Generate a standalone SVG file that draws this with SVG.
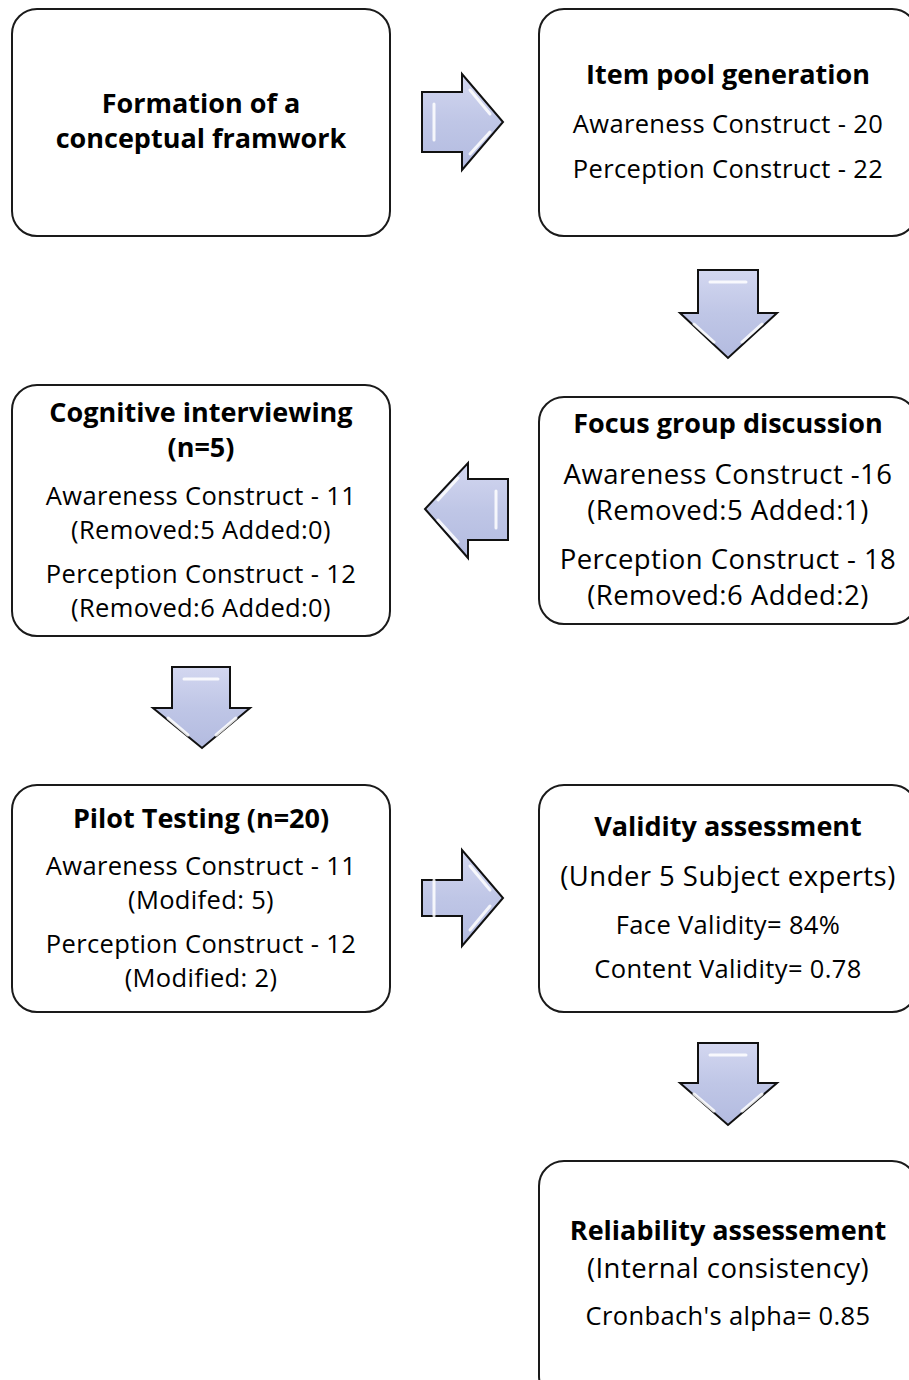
<svg xmlns="http://www.w3.org/2000/svg" width="909" height="1380" viewBox="0 0 909 1380">
<defs>
<linearGradient id="ag" x1="0" y1="0" x2="0" y2="1">
<stop offset="0" stop-color="#d3d7f0"/>
<stop offset="0.5" stop-color="#bfc6e6"/>
<stop offset="1" stop-color="#b3bbe0"/>
</linearGradient>
<style>
.box{fill:#fff;stroke:#1a1a1a;stroke-width:2}
.arr{fill:url(#ag);stroke:#111;stroke-width:2;stroke-linejoin:miter}
.hl{fill:none;stroke:#fff;stroke-width:3;stroke-linecap:round;opacity:0.85}
text{font-family:"Open Sans","Liberation Sans",sans-serif;text-anchor:middle;fill:#000}
.t{font-weight:bold;font-size:27px}
.n{font-size:25.5px;letter-spacing:0.35px}
.m{font-size:27.5px;letter-spacing:0.45px}
</style>
</defs>
<rect width="909" height="1380" fill="#fff"/>

<g id="connectors">
<g id="arrow1">
<path class="arr" d="M422,92 H462 V74 L503,122 L462,170 V152 H422 Z"/>
<path class="hl" d="M434,104 V140 M470,90 L490,114 M470,154 L490,132"/>
</g>
<g id="arrow2">
<path class="arr" d="M698,270 H758 V313 H777 L728,358 L680,313 H698 Z"/>
<path class="hl" d="M710,282 H746 M694,324 L714,342 M762,324 L742,342"/>
</g>
<g id="arrow3">
<path class="arr" d="M508,479 H468 V463 L425,509 L468,558 V540 H508 Z"/>
<path class="hl" d="M496,491 V528 M458,478 L438,500 M458,542 L438,520"/>
</g>
<g id="arrow4">
<path class="arr" d="M172,667 H230 V708 H250 L202,748 L153,708 H172 Z"/>
<path class="hl" d="M184,679 H218 M168,718 L188,735 M236,718 L216,735"/>
</g>
<g id="arrow5">
<path class="arr" d="M422,880 H462 V850 L503,898 L462,946 V916 H422 Z"/>
<path class="hl" d="M434,880 V916 M470,866 L490,890 M470,930 L490,906"/>
</g>
<g id="arrow6">
<path class="arr" d="M698,1043 H758 V1083 H777 L728,1125 L680,1083 H698 Z"/>
<path class="hl" d="M710,1055 H746 M694,1094 L714,1111 M762,1094 L742,1111"/>
</g>
</g>

<g id="n1">
<rect class="box" x="12" y="9" width="378" height="227" rx="25"/>
<text class="t" x="201" y="113">Formation of a</text>
<text class="t" x="201" y="148">conceptual framwork</text>
</g>
<g id="n2">
<rect class="box" x="539" y="9" width="378" height="227" rx="25"/>
<text class="t" x="728" y="84">Item pool generation</text>
<text class="n" x="728" y="133">Awareness Construct - 20</text>
<text class="n" x="728" y="178">Perception Construct - 22</text>
</g>
<g id="n3">
<rect class="box" x="539" y="397" width="378" height="227" rx="25"/>
<text class="t" x="728" y="433">Focus group discussion</text>
<text class="m" x="728" y="483.5">Awareness Construct -16</text>
<text class="m" x="728" y="519.5">(Removed:5 Added:1)</text>
<text class="m" x="728" y="568.5">Perception Construct - 18</text>
<text class="m" x="728" y="604.5">(Removed:6 Added:2)</text>
</g>
<g id="n4">
<rect class="box" x="12" y="385" width="378" height="251" rx="25"/>
<text class="t" x="201" y="422">Cognitive interviewing</text>
<text class="t" x="201" y="457">(n=5)</text>
<text class="n" x="201" y="505">Awareness Construct - 11</text>
<text class="n" x="201" y="539">(Removed:5 Added:0)</text>
<text class="n" x="201" y="583">Perception Construct - 12</text>
<text class="n" x="201" y="617">(Removed:6 Added:0)</text>
</g>
<g id="n5">
<rect class="box" x="12" y="785" width="378" height="227" rx="25"/>
<text class="t" x="201" y="828">Pilot Testing (n=20)</text>
<text class="n" x="201" y="875">Awareness Construct - 11</text>
<text class="n" x="201" y="909">(Modifed: 5)</text>
<text class="n" x="201" y="953">Perception Construct - 12</text>
<text class="n" x="201" y="987">(Modified: 2)</text>
</g>
<g id="n6">
<rect class="box" x="539" y="785" width="378" height="227" rx="25"/>
<text class="t" x="728" y="836">Validity assessment</text>
<text class="m" x="728" y="886">(Under 5 Subject experts)</text>
<text class="n" x="728" y="934">Face Validity= 84%</text>
<text class="n" x="728" y="978">Content Validity= 0.78</text>
</g>
<g id="n7">
<rect class="box" x="539" y="1161" width="378" height="240" rx="25"/>
<text class="t" x="728" y="1240">Reliability assessement</text>
<text class="m" x="728" y="1278">(Internal consistency)</text>
<text class="n" x="728" y="1325">Cronbach's alpha= 0.85</text>
</g>
</svg>
